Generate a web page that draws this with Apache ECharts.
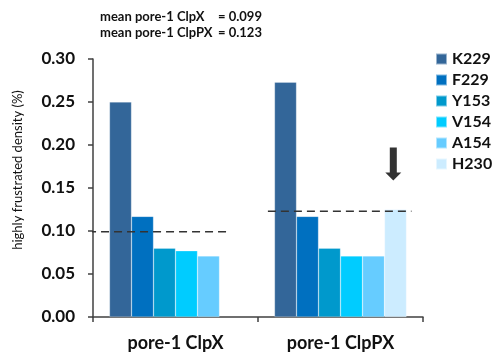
<!DOCTYPE html>
<html>
<head>
<meta charset="utf-8">
<script src="https://cdn.jsdelivr.net/npm/echarts@6/dist/echarts.min.js"></script>
<style>
  html, body { margin: 0; padding: 0; background: #fff; }
  #chart { width: 496px; height: 353px; }
</style>
</head>
<body>
<div id="chart"></div>
<script>
// Pore-1 residues, highly frustrated density per complex
const categories = ['pore-1 ClpX', 'pore-1 ClpPX'];
const residues = ['K229', 'F229', 'Y153', 'V154', 'A154', 'H230'];
const K229 = [0.250, 0.273];
const F229 = [0.117, 0.117];
const Y153 = [0.080, 0.080];
const V154 = [0.077, 0.071];
const A154 = [0.071, 0.071];
const H230 = [null, 0.125];
const seriesValues = [K229, F229, Y153, V154, A154, H230];
const colors = ['#336699', '#0070C0', '#0099CC', '#00CCFF', '#66CCFF', '#CCECFF'];

// Mean lines, spanning each group (x in category-index units on the overlay axis)
const meanClpX = 0.099;
const meanClpPX = 0.123;
const meanClpXSpan = [-0.03, 0.83];
const meanClpPXSpan = [1.06, 1.93];
// Arrow marker above H230
const arrowAt = [1.82, 0.178];

const font = 'Lato, "Open Sans", sans-serif';
const axisColor = '#404040';

const chart = echarts.init(document.getElementById('chart'));

const barSeries = residues.map((name, i) => ({
  name,
  type: 'bar',
  xAxisIndex: 0,
  data: seriesValues[i],
  barGap: '0%',
  barCategoryGap: '20%',
  itemStyle: { color: colors[i], borderColor: 'rgba(255,255,255,0.5)', borderWidth: 0.5 },
  emphasis: { disabled: true }
}));

const meanLine = (value, span) => ({
  type: 'line',
  xAxisIndex: 1,
  data: [[span[0], value], [span[1], value]],
  symbol: 'none',
  clip: false,
  silent: true,
  lineStyle: { color: '#333', width: 1.5, type: [8, 5] },
  z: 5
});

chart.setOption({
  animation: false,
  textStyle: { fontFamily: font },
  grid: { left: 93, right: 73, top: 59, bottom: 36 },
  legend: {
    orient: 'vertical',
    left: 430,
    top: 46,
    itemWidth: 11,
    itemHeight: 11,
    itemGap: 5,
    icon: 'rect',
    data: residues,
    textStyle: { fontFamily: font, fontSize: 16, fontWeight: 'bold', color: '#111', padding: [2, 0, 0, 0] },
    selectedMode: false
  },
  xAxis: [{
    type: 'category',
    data: categories,
    axisLine: { lineStyle: { color: axisColor, width: 1.5 } },
    axisTick: { show: true, length: 5, lineStyle: { color: axisColor, width: 1.5 } },
    axisLabel: { fontFamily: font, fontSize: 18, fontWeight: 'bold', color: '#111', margin: 17 }
  }, {
    type: 'value',
    min: 0,
    max: 2,
    show: false
  }],
  yAxis: {
    type: 'value',
    min: 0,
    max: 0.30,
    interval: 0.05,
    axisLine: { show: true, lineStyle: { color: axisColor, width: 1.5 } },
    axisTick: { show: true, length: 5, lineStyle: { color: axisColor, width: 1.5 } },
    splitLine: { show: false },
    axisLabel: {
      fontFamily: font, fontSize: 17, fontWeight: 'bold', color: '#111', margin: 18,
      formatter: v => v.toFixed(2)
    }
  },
  graphic: [
    {
      type: 'text', x: 18, y: 170, rotation: Math.PI / 2,
      style: { text: 'highly frustrated density (%)', font: '13px ' + font, fill: '#111', align: 'center', verticalAlign: 'middle' }
    },
    { type: 'text', x: 100, y: 17, style: { text: 'mean pore-1 ClpX', font: 'bold 13px ' + font, fill: '#111', verticalAlign: 'middle' } },
    { type: 'text', x: 218, y: 17, style: { text: '= ' + meanClpX.toFixed(3), font: 'bold 13px ' + font, fill: '#111', verticalAlign: 'middle' } },
    { type: 'text', x: 100, y: 33, style: { text: 'mean pore-1 ClpPX', font: 'bold 13px ' + font, fill: '#111', verticalAlign: 'middle' } },
    { type: 'text', x: 218, y: 33, style: { text: '= ' + meanClpPX.toFixed(3), font: 'bold 13px ' + font, fill: '#111', verticalAlign: 'middle' } }
  ],
  series: [
    ...barSeries,
    meanLine(meanClpX, meanClpXSpan),
    meanLine(meanClpPX, meanClpPXSpan),
    {
      type: 'scatter',
      xAxisIndex: 1,
      data: [arrowAt],
      symbol: 'path://M4.5,0 L11.5,0 L11.5,25 L16,25 L8,33 L0,25 L4.5,25 Z',
      symbolSize: [16, 33],
      itemStyle: { color: '#000' },
      silent: true,
      z: 6
    }
  ]
});
</script>
</body>
</html>
